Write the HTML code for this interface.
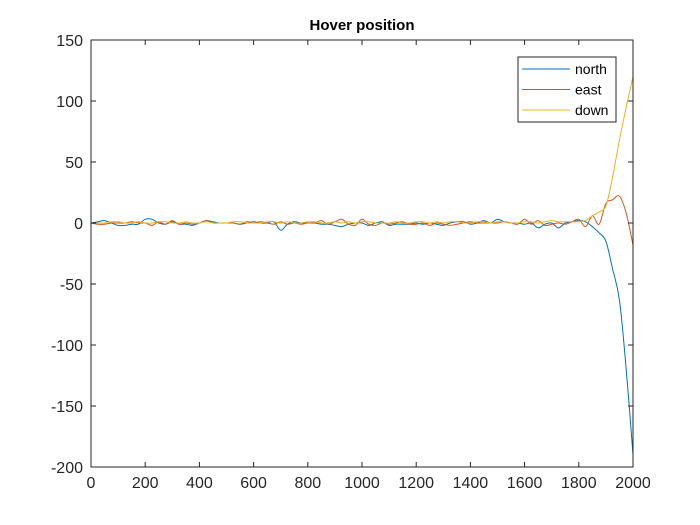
<!DOCTYPE html>
<html><head><meta charset="utf-8"><style>
body{margin:0;background:#fff;}
svg{display:block;font-family:"Liberation Sans",sans-serif;}
</style></head><body>
<svg id="chart" width="700" height="525">
<rect width="700" height="525" fill="#fff"/>
<text x="362" y="30" text-anchor="middle" font-size="15" font-weight="bold" fill="#000">Hover position</text>
<g id="plot"></g>
</svg>
<script>
const xTicks=[0,200,400,600,800,1000,1200,1400,1600,1800,2000];
const yTicks=[150,100,50,0,-50,-100,-150,-200];
const seriesNames=["north","east","down"];
const north=[0,1,2,0,-2,-2,-1,-1,3,3,0,-1,1,-1,-1,-2,0,2,1,0,0,0,-1,0,1,0,0,1,-6,-1,1,0,0,0,-1,-1,-2,-3,-1,0,
0,-2,0,1,-2,-1,-1,-1,0,-1,0,-1,-2,0,1,1,-1,0,2,0,3,1,0,0,-1,0,-4,-1,0,-4,0,1,
2,1,-3,-8,-15,-38,-63,-120,-190];
const east=[0,-1,-1,0,0,0,1,0,0,-2,1,-1,2,-1,0,-1,0,2,0,0,0,0,-1,1,0,1,0,-1,1,-1,0,-1,0,0,2,-1,1,3,-1,-2,
3,-1,-2,0,-1,0,1,-1,-1,0,-2,0,-1,-2,-1,0,1,0,0,0,0,1,0,-1,3,-1,2,-2,-1,0,-1,1,
3,-3,6,-1,16,19,22,8,-18];
const down=[0,0,0,1,1,0,0,1,0,0,1,1,0,0,1,0,0,1,0,0,0,1,1,0,0,0,1,1,0,1,0,0,1,1,0,0,1,0,1,0,
1,1,0,0,0,1,0,0,1,1,0,1,0,1,1,0,0,1,1,0,1,1,0,0,1,1,0,1,2,1,1,1,
1,2,6,9,14,38,68,95,120];
const xStep=25;
const L=91,R=633,T=40,B=467;
const xS=v=>L+(v-0)/(2000-0)*(R-L);
const yS=v=>T+(150-v)/(150+200)*(B-T);
const NS="http://www.w3.org/2000/svg";
const g=document.getElementById('plot');
function mk(tag,attrs){const e=document.createElementNS(NS,tag);for(const k in attrs)e.setAttribute(k,attrs[k]);g.appendChild(e);return e;}
function smoothPath(p){
  let d="M"+p[0][0].toFixed(1)+","+p[0][1].toFixed(1);
  for(let i=0;i<p.length-1;i++){
    const p0=p[Math.max(0,i-1)],p1=p[i],p2=p[i+1],p3=p[Math.min(p.length-1,i+2)];
    const c1x=p1[0]+(p2[0]-p0[0])/6,c1y=p1[1]+(p2[1]-p0[1])/6;
    const c2x=p2[0]-(p3[0]-p1[0])/6,c2y=p2[1]-(p3[1]-p1[1])/6;
    d+=" C"+c1x.toFixed(1)+","+c1y.toFixed(1)+" "+c2x.toFixed(1)+","+c2y.toFixed(1)+" "+p2[0].toFixed(1)+","+p2[1].toFixed(1);
  }
  return d;
}
const colors=["#0072BD","#D95319","#EDB120"];
[north,east,down].forEach((s,i)=>{
  const pts=s.map((v,j)=>[xS(j*xStep),yS(v)]);
  const p=mk('path',{d:smoothPath(pts),fill:"none",stroke:colors[i],"stroke-width":1});
  
  
});
const box=mk('rect',{x:L,y:T,width:R-L,height:B-T,fill:"none",stroke:"#262626","stroke-width":1});


xTicks.forEach(t=>{
  const x=xS(t);
  const l1=mk('line',{x1:x,x2:x,y1:B,y2:B-5,stroke:"#262626"});
  
  
  const l2=mk('line',{x1:x,x2:x,y1:T,y2:T+5,stroke:"#262626"});
  
  
  const tx=mk('text',{x:x,y:B+21,"text-anchor":"middle","font-size":16,fill:"#262626"});
  tx.textContent=t;
  
  
});
yTicks.forEach(t=>{
  const y=yS(t);
  const l1=mk('line',{x1:L,x2:L+5,y1:y,y2:y,stroke:"#262626"});
  
  
  const l2=mk('line',{x1:R,x2:R-5,y1:y,y2:y,stroke:"#262626"});
  
  
  const tx=mk('text',{x:L-8,y:y+6,"text-anchor":"end","font-size":16,fill:"#262626"});
  tx.textContent=t;
  
  
});
const lg=mk('rect',{x:518,y:57,width:98,height:65,fill:"#fff",stroke:"#262626","stroke-width":1});


seriesNames.forEach((n,i)=>{
  const y=69+i*20.5;
  const l=mk('line',{x1:522,x2:570,y1:y,y2:y,stroke:colors[i]});
  
  
  const tx=mk('text',{x:575,y:y+5,"font-size":14,fill:"#000"});
  tx.textContent=n;
  
  
});
</script>
</body></html>
